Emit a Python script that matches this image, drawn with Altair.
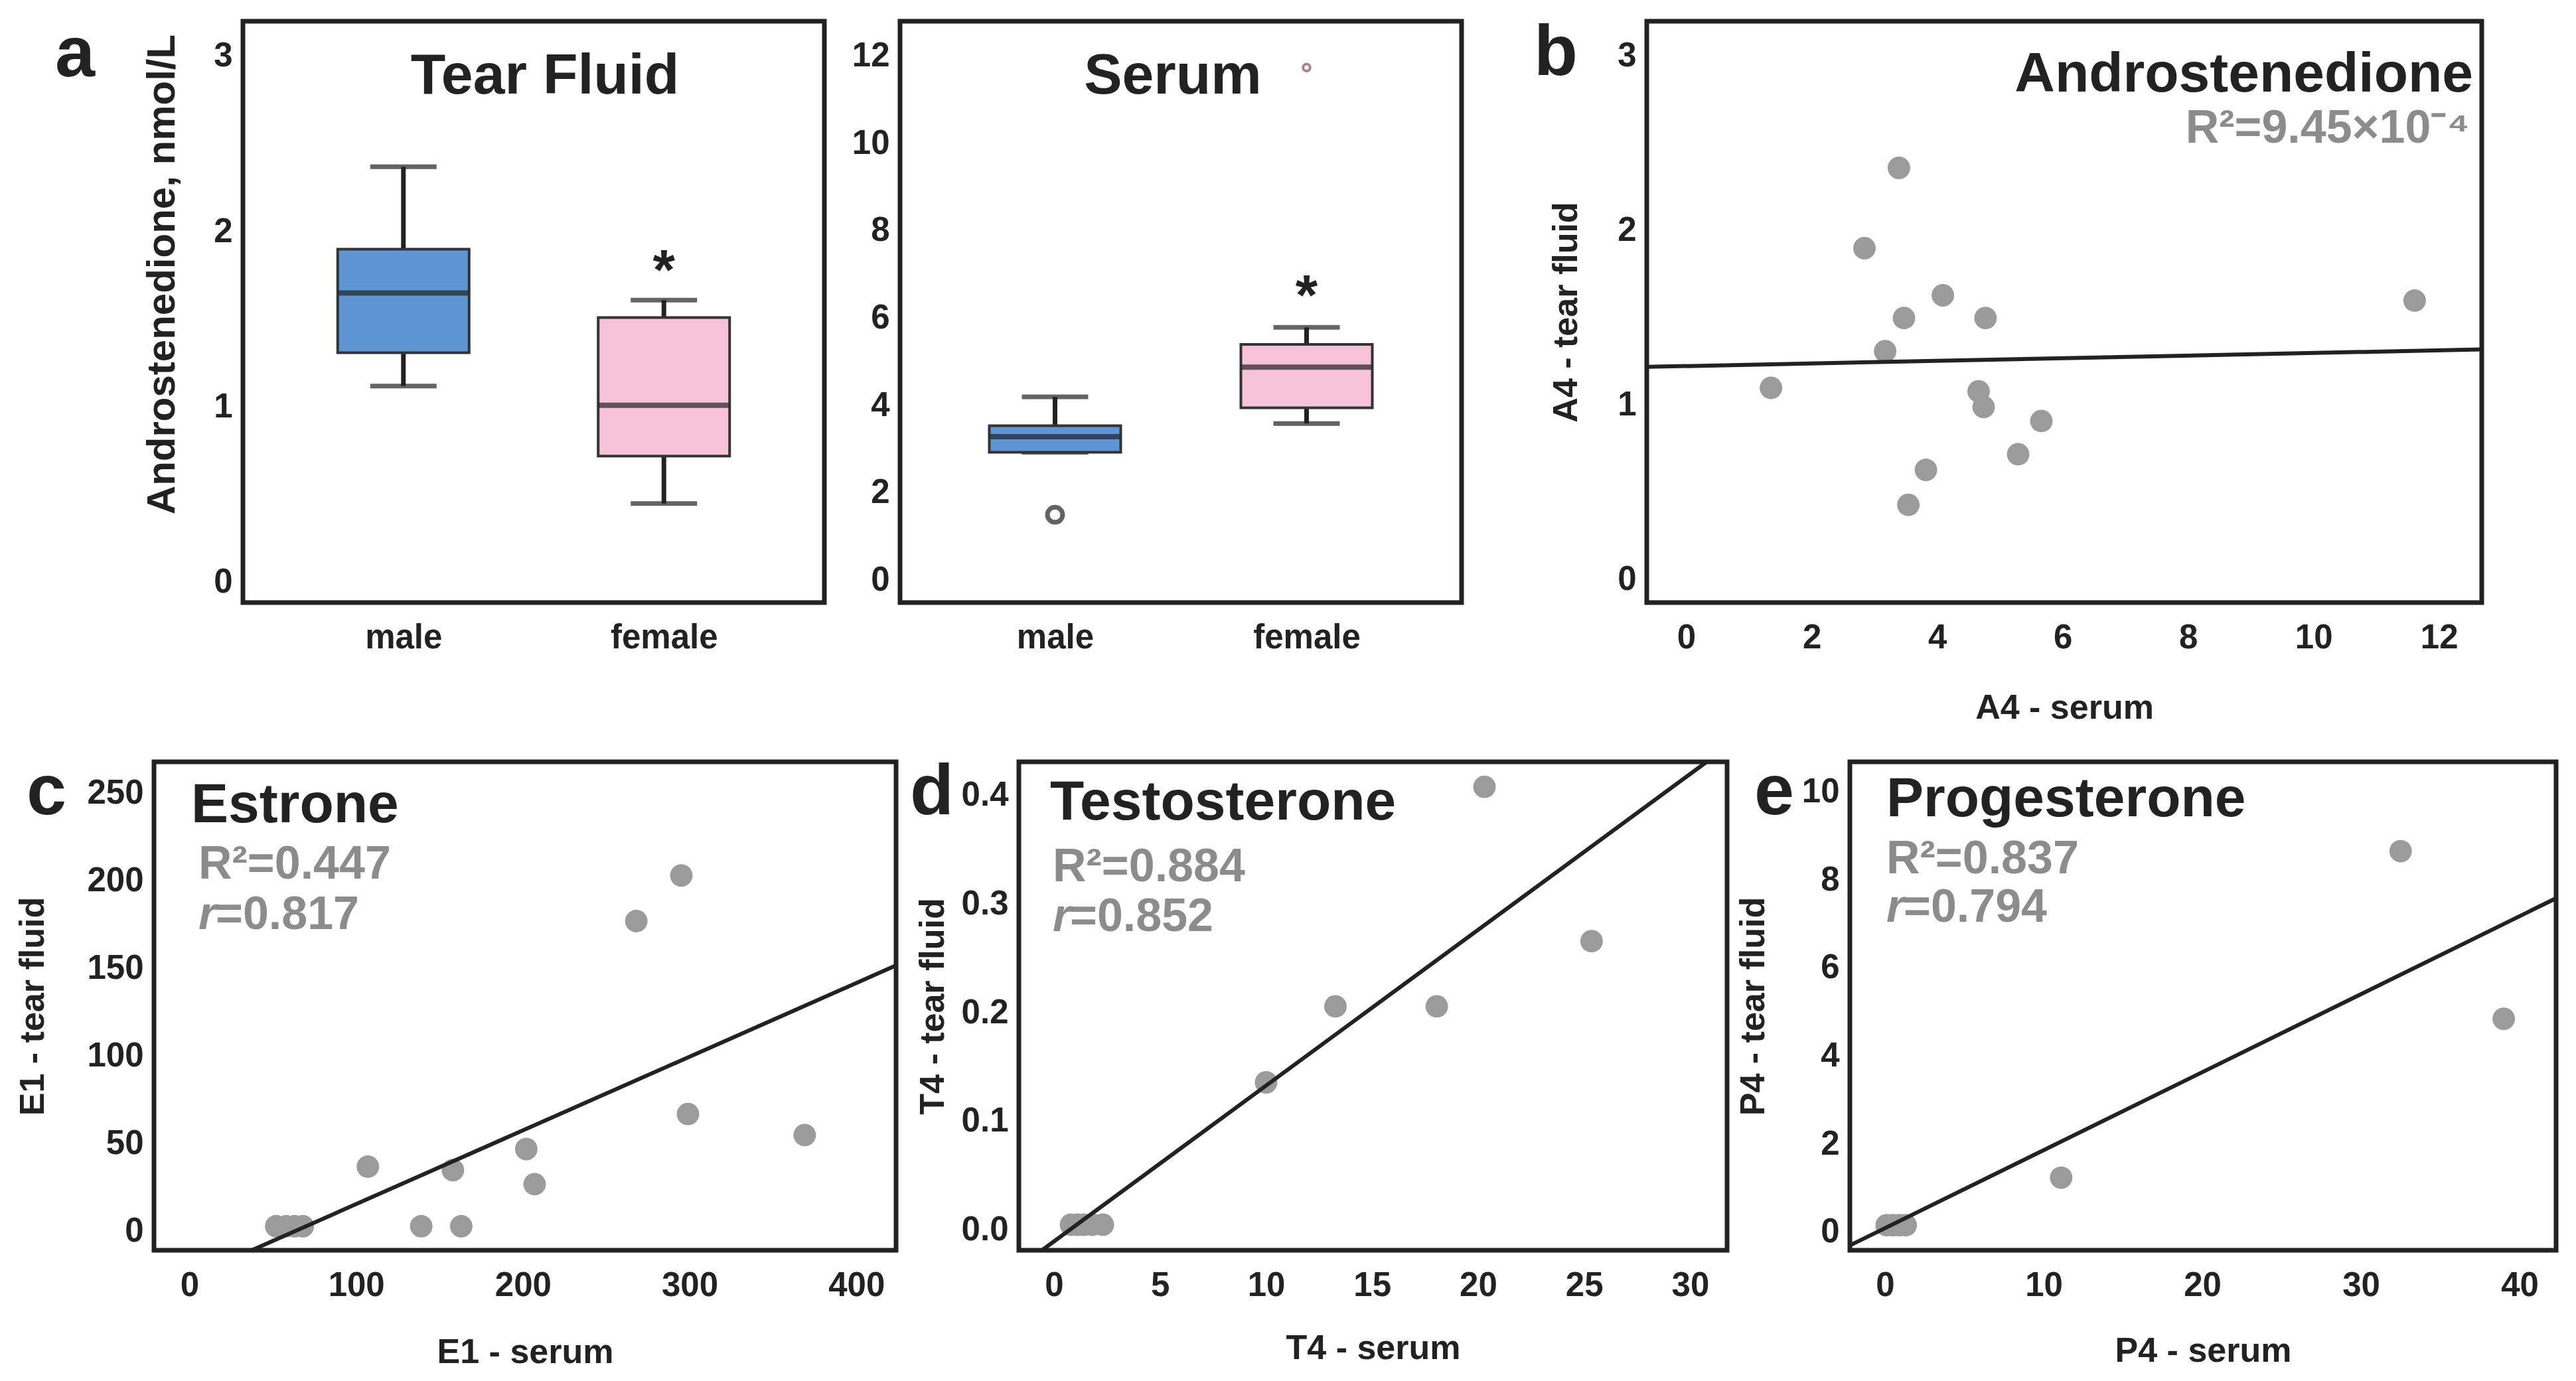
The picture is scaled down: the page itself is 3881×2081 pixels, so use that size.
import altair as alt
import pandas as pd

FONT = "Liberation Sans, Arial, Helvetica, sans-serif"
DARK = "#222222"
GRAY_TXT = "#8c8c8c"
GRAY_PT = "#9b9b9b"
BLUE = "#5e96d3"
PINK = "#f6c2d8"

# ---------------- data ----------------
groups = ["male", "female"]

tear_lower = [1.12, 0.45]
tear_q1 = [1.31, 0.72]
tear_median = [1.65, 1.01]
tear_q3 = [1.90, 1.51]
tear_upper = [2.37, 1.61]
tear_star_group = ["female"]
tear_star_y = [1.80]

serum_lower = [2.93, 3.59]
serum_q1 = [2.93, 3.95]
serum_median = [3.29, 4.88]
serum_q3 = [3.54, 5.40]
serum_upper = [4.20, 5.79]
serum_out_male_y = [1.50]
serum_out_female_y = [11.74]
serum_star_group = ["female"]
serum_star_y = [6.60]

a4_serum = [3.39, 2.84, 4.09, 3.47, 4.77, 3.17, 1.35, 4.66, 4.74, 5.66, 5.29, 3.82, 3.54, 11.61]
a4_tear = [2.36, 1.90, 1.63, 1.50, 1.50, 1.31, 1.10, 1.08, 0.99, 0.91, 0.72, 0.63, 0.43, 1.60]
a4_fit_x = [-0.63, 12.68]
a4_fit_y = [1.22, 1.32]

e1_serum = [295, 268, 299, 369, 202, 207, 107, 158, 139, 163, 52, 58, 63, 68]
e1_tear = [203, 177, 67, 55, 47, 27, 37, 35, 3, 3, 3, 3, 3, 3]
e1_fit_x = [37.3, 423.8]
e1_fit_y = [-10.7, 151.7]

t4_serum = [20.3, 25.35, 13.27, 18.05, 10.0, 0.8, 1.1, 1.4, 1.8, 2.3]
t4_tear = [0.408, 0.266, 0.206, 0.206, 0.136, 0.005, 0.005, 0.005, 0.005, 0.005]
t4_fit_x = [-0.57, 30.78]
t4_fit_y = [-0.0185, 0.431]

p4_serum = [32.5, 39.0, 11.1, 0.1, 0.5, 0.9, 1.3]
p4_tear = [8.66, 4.85, 1.24, 0.16, 0.16, 0.16, 0.16]
p4_fit_x = [-2.22, 42.3]
p4_fit_y = [-0.30, 7.59]

# text
star_text = ["*"]
tear_title = ["Tear Fluid"]
serum_title = ["Serum"]
tear_ytitle = "Androstenedione, nmol/L"
a4_title = ["Androstenedione"]
a4_r2 = ["R²=9.45×10⁻⁴"]
e1_title = ["Estrone"]
e1_r2 = ["R²=0.447"]
e1_r = ["=0.817"]
t4_title = ["Testosterone"]
t4_r2 = ["R²=0.884"]
t4_r = ["=0.852"]
p4_title = ["Progesterone"]
p4_r2 = ["R²=0.837"]
p4_r = ["=0.794"]
r_letter = ["r"]
panel_letters = ["a", "b", "c", "d", "e"]

tear_yticks = [0, 1, 2, 3]
serum_yticks = [0, 2, 4, 6, 8, 10, 12]
a4_xticks = [0, 2, 4, 6, 8, 10, 12]
a4_yticks = [0, 1, 2, 3]
e1_xticks = [0, 100, 200, 300, 400]
e1_yticks = [0, 50, 100, 150, 200, 250]
t4_xticks = [0, 5, 10, 15, 20, 25, 30]
t4_yticks = [0.0, 0.1, 0.2, 0.3, 0.4]
p4_xticks = [0, 10, 20, 30, 40]
p4_yticks = [0, 2, 4, 6, 8, 10]


def label(texts, x, y, size, color, align="left", style="normal"):
    return alt.Chart(pd.DataFrame({"t": texts})).mark_text(
        align=align, baseline="alphabetic", fontSize=size, fontWeight="bold",
        font=FONT, color=color, fontStyle=style
    ).encode(x=alt.value(x), y=alt.value(y), text="t:N")


def box_panel(lower, q1, med, q3, upper, ydomain, yticks, width, height,
              ytitle, ytpad, star_group, star_y):
    df = pd.DataFrame({"group": groups, "lower": lower, "q1": q1,
                       "median": med, "q3": q3, "upper": upper})
    xaxis = alt.Axis(title=None, labelAngle=0, labelPadding=28)
    yargs = dict(values=yticks, title=ytitle, titlePadding=ytpad,
                 titleFontSize=60, labelPadding=16)
    if ytitle:
        yargs["titleY"] = 381
    yaxis = alt.Axis(**yargs)
    yscale = alt.Scale(domain=ydomain, nice=False, zero=False)

    def X():
        return alt.X("group:N", sort=groups,
                     scale=alt.Scale(type="point", padding=0.616, domain=groups),
                     axis=xaxis)

    def Y(f):
        return alt.Y(f, scale=yscale, axis=yaxis)

    base = alt.Chart(df)
    w_lo = base.mark_rule(strokeWidth=7, color=DARK).encode(x=X(), y=Y("lower:Q"), y2="q1:Q")
    w_hi = base.mark_rule(strokeWidth=7, color=DARK).encode(x=X(), y=Y("q3:Q"), y2="upper:Q")
    c_lo = base.mark_tick(size=100, thickness=7, color=DARK).encode(x=X(), y=Y("lower:Q"))
    c_hi = base.mark_tick(size=100, thickness=7, color=DARK).encode(x=X(), y=Y("upper:Q"))
    box = base.mark_bar(size=198, stroke="#333333", strokeWidth=4).encode(
        x=X(), y=Y("q1:Q"), y2="q3:Q",
        color=alt.Color("group:N", scale=alt.Scale(domain=groups, range=[BLUE, PINK]), legend=None))
    md = base.mark_tick(size=196, thickness=8, color=DARK).encode(x=X(), y=Y("median:Q"))
    star = alt.Chart(pd.DataFrame({"group": star_group, "y": star_y, "t": star_text})).mark_text(
        fontSize=86, fontWeight="bold", font=FONT, color=DARK, baseline="middle", dy=8
    ).encode(x=X(), y=Y("y:Q"), text="t:N")
    return [w_lo, w_hi, c_lo, c_hi, box, md, star], X, Y, width, height


# Tear fluid
layers, X, Y, w, h = box_panel(tear_lower, tear_q1, tear_median, tear_q3, tear_upper,
                               [-0.115, 3.2], tear_yticks, 876, 876, tear_ytitle, 46,
                               tear_star_group, tear_star_y)
tear = alt.layer(*layers,
                 label(tear_title, 455, 109, 86, DARK, align="center"),
                 label(panel_letters[:1], -283, 83, 108, DARK)).properties(width=w, height=h)

# Serum
layers, X, Y, w, h = box_panel(serum_lower, serum_q1, serum_median, serum_q3, serum_upper,
                               [-0.51, 12.8], serum_yticks, 846, 876, None, 40,
                               serum_star_group, serum_star_y)
out_m = alt.Chart(pd.DataFrame({"group": ["male"], "y": serum_out_male_y})).mark_point(
    shape="circle", size=520, strokeWidth=7, color=DARK, filled=False).encode(x=X(), y=Y("y:Q"))
out_f = alt.Chart(pd.DataFrame({"group": ["female"], "y": serum_out_female_y})).mark_point(
    shape="circle", size=110, strokeWidth=4, color="#8e4a62", filled=False).encode(x=X(), y=Y("y:Q"))
serum = alt.layer(*layers, out_m, out_f,
                  label(serum_title, 411, 109, 86, DARK, align="center")).properties(width=w, height=h)


def scatter_panel(xs, ys, fx, fy, xdomain, xticks, ydomain, yticks, xtitle, ytitle,
                  width, height, ytpad, xtpad, yformat=None):
    pts = pd.DataFrame({"x": xs, "y": ys})
    ln = pd.DataFrame({"x": fx, "y": fy})
    xaxis = alt.Axis(values=xticks, title=xtitle, labelPadding=28, titlePadding=xtpad)
    yargs = dict(values=yticks, title=ytitle, titlePadding=ytpad, labelPadding=16)
    if yformat:
        yargs["format"] = yformat
    yaxis = alt.Axis(**yargs)

    def X():
        return alt.X("x:Q", scale=alt.Scale(domain=xdomain, nice=False, zero=False), axis=xaxis)

    def Y():
        return alt.Y("y:Q", scale=alt.Scale(domain=ydomain, nice=False, zero=False), axis=yaxis)

    p = alt.Chart(pts).mark_circle(size=1150, color=GRAY_PT, opacity=1).encode(x=X(), y=Y())
    l = alt.Chart(ln).mark_line(color=DARK, strokeWidth=6, clip=True).encode(x=X(), y=Y())
    return [p, l], width, height


# b
layers, w, h = scatter_panel(a4_serum, a4_tear, a4_fit_x, a4_fit_y, [-0.63, 12.68], a4_xticks,
                             [-0.13, 3.2], a4_yticks, "A4 - serum", "A4 - tear fluid",
                             1258, 876, 50, 55)
pb = alt.layer(*layers,
               label(a4_title, 1245, 106, 84, DARK, align="right"),
               label(a4_r2, 1240, 183, 70, GRAY_TXT, align="right"),
               label(panel_letters[1:2], -170, 81, 108, DARK)).properties(width=w, height=h)

# c
layers, w, h = scatter_panel(e1_serum, e1_tear, e1_fit_x, e1_fit_y, [-21.3, 423.8], e1_xticks,
                             [-10.7, 267.8], e1_yticks, "E1 - serum", "E1 - tear fluid",
                             1118, 736, 54, 50)
pc = alt.layer(*layers,
               label(e1_title, 56, 91, 84, DARK),
               label(e1_r2, 67, 176, 70, GRAY_TXT),
               label(r_letter, 67, 252, 70, GRAY_TXT, style="italic"),
               label(e1_r, 93, 252, 70, GRAY_TXT),
               label(panel_letters[2:3], -192, 79, 108, DARK)).properties(width=w, height=h)

# d
layers, w, h = scatter_panel(t4_serum, t4_tear, t4_fit_x, t4_fit_y, [-1.66, 31.74], t4_xticks,
                             [-0.0185, 0.431], t4_yticks, "T4 - serum", "T4 - tear fluid",
                             1067, 736, 16, 44, yformat=".1f")
pd_ = alt.layer(*layers,
                label(t4_title, 47, 87, 84, DARK),
                label(t4_r2, 51, 180, 70, GRAY_TXT),
                label(r_letter, 51, 255, 70, GRAY_TXT, style="italic"),
                label(t4_r, 77, 255, 70, GRAY_TXT),
                label(panel_letters[3:4], -164, 79, 108, DARK)).properties(width=w, height=h)

# e
layers, w, h = scatter_panel(p4_serum, p4_tear, p4_fit_x, p4_fit_y, [-2.22, 42.3], p4_xticks,
                             [-0.41, 10.69], p4_yticks, "P4 - serum", "P4 - tear fluid",
                             1064, 736, 46, 48)
pe = alt.layer(*layers,
               label(p4_title, 55, 82, 84, DARK),
               label(p4_r2, 55, 168, 70, GRAY_TXT),
               label(r_letter, 55, 241, 70, GRAY_TXT, style="italic"),
               label(p4_r, 81, 241, 70, GRAY_TXT),
               label(panel_letters[4:5], -144, 79, 108, DARK)).properties(width=w, height=h)


def spacer(width, height):
    return alt.Chart(pd.DataFrame({"v": [0]})).mark_point(opacity=0).encode(
        x=alt.X("v:Q", axis=None), y=alt.Y("v:Q", axis=None)
    ).properties(width=width, height=height, view=alt.ViewBackground(strokeOpacity=0))


row1 = alt.hconcat(spacer(228, 1098), tear, serum, spacer(51, 10), pb,
                   spacing=114, bounds="flush")
row2 = alt.hconcat(spacer(23, 10), pc, pd_, pe, spacing=185, bounds="flush")

chart = alt.vconcat(row1, row2, spacing=7).properties(
    padding={"left": 12, "top": 15, "right": 10, "bottom": 10},
    background="white"
).configure_view(
    stroke=DARK, strokeWidth=7
).configure_axis(
    labelFont=FONT, labelFontSize=51, labelFontWeight="bold", labelColor=DARK,
    titleFont=FONT, titleFontSize=52, titleFontWeight="bold", titleColor=DARK,
    ticks=False, domain=False, grid=False, labelFlush=False, labelOverlap=False
).configure_title(font=FONT)

chart.save("out.html", embed_options={"renderer": "svg", "actions": False})
